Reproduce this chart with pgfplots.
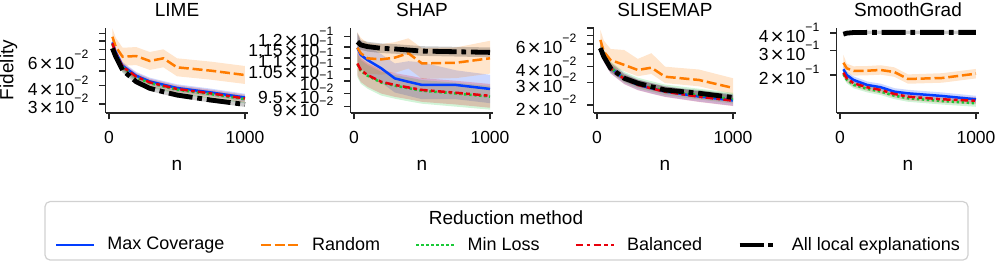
\documentclass[border=0pt]{standalone}
\usepackage{fontspec}
\setmainfont{Liberation Sans}
\newfontfamily\djv{DejaVu Sans}
\usepackage{pgfplots}
\pgfplotsset{compat=1.18}
\usepackage{pgfplotstable}

\definecolor{cMC}{HTML}{023EFF}
\definecolor{cRD}{HTML}{FF7C00}
\definecolor{cML}{HTML}{1AC938}
\definecolor{cBL}{HTML}{E8000B}

\newcommand{\ex}[1]{\raisebox{5.6pt}{\fontsize{6.1}{6}\selectfont −#1}}
\newcommand{\sci}[2]{#1{\djv\hspace{0.08em}×\hspace{0.08em}}10\ex{#2}}

\pgfplotstableread{
n mc rd ml bl al
25 0.0783 0.0855 0.0763 0.0771 0.0714
50 0.0670 0.0730 0.0653 0.0660 0.0626
100 0.0544 0.0626 0.0531 0.0536 0.0509
200 0.0466 0.0633 0.0454 0.0459 0.0424
300 0.0426 0.0586 0.0416 0.0420 0.0383
400 0.0405 0.0611 0.0395 0.0399 0.0363
500 0.0385 0.0531 0.0375 0.0379 0.0345
750 0.0359 0.0504 0.0350 0.0354 0.0319
1000 0.0332 0.0471 0.0324 0.0327 0.0298
}\tLIME

\pgfplotstableread{
n mc rd ml bl al
25 0.1147 0.1147 0.1072 0.1075 0.1175
50 0.1113 0.1121 0.1043 0.1046 0.1160
100 0.1090 0.1098 0.1022 0.1025 0.1152
200 0.1054 0.1093 0.0994 0.0997 0.1144
300 0.1011 0.1101 0.0981 0.0984 0.1141
400 0.0997 0.1121 0.0971 0.0974 0.1136
500 0.0984 0.1075 0.0961 0.0964 0.1131
750 0.0984 0.1078 0.0950 0.0953 0.1128
1000 0.0968 0.1098 0.0938 0.0941 0.1125
}\tSHAP

\pgfplotstableread{
n mc rd ml bl al
25 0.0560 0.0647 0.0560 0.0557 0.0557
50 0.0481 0.0524 0.0482 0.0479 0.0479
100 0.0391 0.0451 0.0392 0.0389 0.0389
200 0.0323 0.0413 0.0325 0.0321 0.0325
300 0.0289 0.0377 0.0293 0.0288 0.0297
400 0.0272 0.0393 0.0275 0.0271 0.0279
500 0.0256 0.0334 0.0259 0.0255 0.0263
750 0.0234 0.0315 0.0240 0.0233 0.0248
1000 0.0218 0.0273 0.0223 0.0217 0.0230
}\tSLISE

\pgfplotstableread{
n mc rd ml bl al
25 0.2198 0.2450 0.2030 0.2077 0.3930
50 0.2000 0.2234 0.1850 0.1893 0.4000
100 0.1842 0.2137 0.1700 0.1744 0.4040
200 0.1695 0.2148 0.1590 0.1632 0.4050
300 0.1632 0.2172 0.1520 0.1560 0.4050
400 0.1517 0.2100 0.1420 0.1460 0.4050
500 0.1476 0.1872 0.1360 0.1396 0.4050
750 0.1413 0.1903 0.1300 0.1337 0.4050
1000 0.1337 0.2044 0.1252 0.1306 0.4050
}\tSMOOTH

\pgfplotsset{
  mypanel/.style={
    scale only axis, width=71.4pt, height=42.5pt,
    xmin=-25, xmax=1025,
    axis x line*=bottom, axis y line*=left,
    axis line style={-, line width=0.8pt, black!85},
    tick style={line width=0.8pt, black!85},
    major tick length=3.2pt, tick align=outside,
    xtick={0,1000}, xticklabels={0,1000},
    xminorticks=false, yminorticks=false,
    ticklabel style={font=\fontsize{8.75}{10}\selectfont},
    xticklabel style={anchor=base, yshift=-12pt},
    yticklabel style={anchor=east, xshift=-1.9pt},
    title style={font=\fontsize{9.5}{11}\selectfont, at={(axis description cs:0.5,1)}, anchor=base},
    xlabel=n,
    xlabel style={font=\fontsize{9.5}{11}\selectfont, at={(axis description cs:0.5,0)}, anchor=base, yshift=-28.5pt},
  },
  sMC/.style={cMC, line width=1.25pt, solid},
  sRD/.style={cRD, line width=1.25pt, dash pattern=on 5pt off 1.9pt},
  sML/.style={cML, line width=1.25pt, dash pattern=on 1.25pt off 1.25pt},
  sBL/.style={cBL, line width=1.25pt, dash pattern=on 3.75pt off 1.6pt on 1.9pt off 1.6pt},
  sAL/.style={black, line width=2.4pt, dash pattern=on 12pt off 2.4pt on 2.4pt off 2.4pt},
  bandMC/.style={draw=none, fill=cMC, fill opacity=0.2, forget plot},
  bandRD/.style={draw=none, fill=cRD, fill opacity=0.2, forget plot},
  bandML/.style={draw=none, fill=cML, fill opacity=0.2, forget plot},
  bandBL/.style={draw=none, fill=cBL, fill opacity=0.2, forget plot},
  bandAL/.style={draw=none, fill=black, fill opacity=0.2, forget plot},
}

\newcommand{\lines}[1]{%
  \addplot[sMC] table[x=n,y=mc]{#1};
  \addplot[sRD] table[x=n,y=rd]{#1};
  \addplot[sML] table[x=n,y=ml]{#1};
  \addplot[sBL] table[x=n,y=bl]{#1};
  \addplot[sAL] table[x=n,y=al]{#1};
}

\begin{document}
\begin{tikzpicture}
\path[use as bounding box] (0pt,0pt) rectangle (498.5pt,-131pt);

\begin{axis}[mypanel, ymode=log, at={(52.8pt,-56.5pt)}, anchor=south west,
  title=LIME, ymin=0.02609, ymax=0.0979,
  ytick={0.03,0.04,0.05,0.06,0.07,0.08,0.09},
  yticklabels={\sci{3}{2},\sci{4}{2},{},\sci{6}{2},{},{},{}},
  ylabel=Fidelity,
  ylabel style={font=\fontsize{9.5}{11}\selectfont, at={(axis description cs:-0.68,0.506)}, anchor=center}]
\addplot[bandMC] coordinates {(25,0.0830)(50,0.0710)(100,0.0577)(200,0.0494)(300,0.0452)(400,0.0429)(500,0.0408)(750,0.0381)(1000,0.0352)(1000,0.0313)(750,0.0339)(500,0.0363)(400,0.0382)(300,0.0402)(200,0.0440)(100,0.0513)(50,0.0632)(25,0.0739)} -- cycle;
\addplot[bandRD] coordinates {(25,0.0975)(50,0.0840)(100,0.0720)(200,0.0728)(300,0.0674)(400,0.0703)(500,0.0611)(750,0.0580)(1000,0.0542)(1000,0.0410)(750,0.0438)(500,0.0462)(400,0.0531)(300,0.0510)(200,0.0550)(100,0.0544)(50,0.0635)(25,0.0743)} -- cycle;
\addplot[bandML] coordinates {(25,0.0801)(50,0.0686)(100,0.0558)(200,0.0477)(300,0.0437)(400,0.0415)(500,0.0394)(750,0.0368)(1000,0.0340)(1000,0.0303)(750,0.0327)(500,0.0350)(400,0.0369)(300,0.0389)(200,0.0424)(100,0.0496)(50,0.0610)(25,0.0713)} -- cycle;
\addplot[bandBL] coordinates {(25,0.0817)(50,0.0700)(100,0.0568)(200,0.0487)(300,0.0445)(400,0.0423)(500,0.0402)(750,0.0375)(1000,0.0347)(1000,0.0308)(750,0.0334)(500,0.0358)(400,0.0376)(300,0.0396)(200,0.0433)(100,0.0506)(50,0.0623)(25,0.0727)} -- cycle;
\addplot[bandAL] coordinates {(25,0.0743)(50,0.0651)(100,0.0529)(200,0.0441)(300,0.0398)(400,0.0378)(500,0.0359)(750,0.0332)(1000,0.0310)(1000,0.0287)(750,0.0307)(500,0.0332)(400,0.0349)(300,0.0368)(200,0.0408)(100,0.0489)(50,0.0602)(25,0.0687)} -- cycle;
\lines{\tLIME}
\end{axis}

\begin{axis}[mypanel, ymode=log, at={(175.3pt,-56.5pt)}, anchor=south west,
  title=SHAP, ymin=0.08768, ymax=0.12436,
  ytick={0.09,0.095,0.1,0.105,0.11,0.115,0.12},
  yticklabels={\sci{9}{2},\sci{9.5}{2},10\ex{1},\sci{1.05}{1},\sci{1.1}{1},\sci{1.15}{1},\sci{1.2}{1}}]
\addplot[bandMC] coordinates {(25,0.1216)(50,0.1180)(100,0.1155)(200,0.1117)(300,0.1075)(400,0.1085)(500,0.1080)(750,0.1045)(1000,0.1026)(1000,0.0913)(750,0.0928)(500,0.0928)(400,0.0941)(300,0.0954)(200,0.0994)(100,0.1028)(50,0.1050)(25,0.1082)} -- cycle;
\addplot[bandRD] coordinates {(25,0.1222)(50,0.1194)(100,0.1169)(200,0.1164)(300,0.1173)(400,0.1192)(500,0.1145)(750,0.1148)(1000,0.1180)(1000,0.1031)(750,0.1012)(500,0.1009)(400,0.1053)(300,0.1034)(200,0.1026)(100,0.1031)(50,0.1053)(25,0.1077)} -- cycle;
\addplot[bandML] coordinates {(25,0.1120)(50,0.1090)(100,0.1068)(200,0.1039)(300,0.1025)(400,0.1015)(500,0.1004)(750,0.0993)(1000,0.0980)(1000,0.0889)(750,0.0900)(500,0.0911)(400,0.0920)(300,0.0930)(200,0.0942)(100,0.0969)(50,0.0989)(25,0.1016)} -- cycle;
\addplot[bandBL] coordinates {(25,0.1129)(50,0.1098)(100,0.1076)(200,0.1047)(300,0.1033)(400,0.1023)(500,0.1012)(750,0.1001)(1000,0.0988)(1000,0.0896)(750,0.0908)(500,0.0918)(400,0.0928)(300,0.0937)(200,0.0950)(100,0.0976)(50,0.0996)(25,0.1024)} -- cycle;
\addplot[bandAL] coordinates {(25,0.1220)(50,0.1183)(100,0.1175)(200,0.1167)(300,0.1164)(400,0.1159)(500,0.1154)(750,0.1151)(1000,0.1148)(1000,0.1103)(750,0.1106)(500,0.1109)(400,0.1114)(300,0.1119)(200,0.1122)(100,0.1129)(50,0.1137)(25,0.1130)} -- cycle;
\lines{\tSHAP}
\end{axis}

\begin{axis}[mypanel, ymode=log, at={(296.8pt,-56.5pt)}, anchor=south west,
  title=SLISEMAP, ymin=0.01739, ymax=0.0802,
  ytick={0.02,0.03,0.04,0.05,0.06,0.07,0.08},
  yticklabels={\sci{2}{2},\sci{3}{2},\sci{4}{2},{},\sci{6}{2},{},{}}]
\addplot[bandMC] coordinates {(25,0.0616)(50,0.0529)(100,0.0430)(200,0.0355)(300,0.0318)(400,0.0299)(500,0.0282)(750,0.0257)(1000,0.0240)(1000,0.0198)(750,0.0213)(500,0.0233)(400,0.0247)(300,0.0263)(200,0.0294)(100,0.0355)(50,0.0437)(25,0.0509)} -- cycle;
\addplot[bandRD] coordinates {(25,0.0775)(50,0.0640)(100,0.0550)(200,0.0540)(300,0.0460)(400,0.0510)(500,0.0400)(750,0.0380)(1000,0.0325)(1000,0.0244)(750,0.0281)(500,0.0298)(400,0.0351)(300,0.0337)(200,0.0369)(100,0.0403)(50,0.0468)(25,0.0578)} -- cycle;
\addplot[bandML] coordinates {(25,0.0627)(50,0.0540)(100,0.0439)(200,0.0364)(300,0.0328)(400,0.0308)(500,0.0290)(750,0.0269)(1000,0.0250)(1000,0.0206)(750,0.0222)(500,0.0240)(400,0.0255)(300,0.0271)(200,0.0301)(100,0.0363)(50,0.0446)(25,0.0519)} -- cycle;
\addplot[bandBL] coordinates {(25,0.0613)(50,0.0527)(100,0.0428)(200,0.0353)(300,0.0317)(400,0.0298)(500,0.0281)(750,0.0256)(1000,0.0239)(1000,0.0197)(750,0.0212)(500,0.0232)(400,0.0246)(300,0.0262)(200,0.0292)(100,0.0354)(50,0.0435)(25,0.0506)} -- cycle;
\addplot[bandAL] coordinates {(25,0.0590)(50,0.0508)(100,0.0412)(200,0.0345)(300,0.0315)(400,0.0296)(500,0.0279)(750,0.0263)(1000,0.0244)(1000,0.0217)(750,0.0234)(500,0.0248)(400,0.0263)(300,0.0280)(200,0.0307)(100,0.0367)(50,0.0452)(25,0.0525)} -- cycle;
\lines{\tSLISE}
\end{axis}

\begin{axis}[mypanel, ymode=log, at={(418.3pt,-56.5pt)}, anchor=south west,
  title=SmoothGrad, ymin=0.10656, ymax=0.4355,
  ytick={0.2,0.3,0.4},
  yticklabels={\sci{2}{1},\sci{3}{1},\sci{4}{1}},
  legend columns=5,
  legend image code/.code={\draw[#1] (0pt,0pt) -- (19pt,0pt);},
  legend style={draw=none, fill=none, at={(axis description cs:-2.2906,-1.553)}, anchor=center,
    font=\fontsize{9}{11}\selectfont,
    /tikz/every odd column/.append style={column sep=4pt},
    /tikz/every even column/.append style={column sep=15.5pt}}]
\addplot[bandMC] coordinates {(25,0.2330)(50,0.2120)(100,0.1953)(200,0.1797)(300,0.1730)(400,0.1608)(500,0.1565)(750,0.1498)(1000,0.1417)(1000,0.1261)(750,0.1333)(500,0.1392)(400,0.1431)(300,0.1540)(200,0.1599)(100,0.1738)(50,0.1887)(25,0.2074)} -- cycle;
\addplot[bandRD] coordinates {(25,0.2790)(50,0.2410)(100,0.2310)(200,0.2320)(300,0.2350)(400,0.2270)(500,0.2020)(750,0.2060)(1000,0.2210)(1000,0.1890)(750,0.1760)(500,0.1730)(400,0.1940)(300,0.2010)(200,0.1990)(100,0.1980)(50,0.2070)(25,0.2270)} -- cycle;
\addplot[bandML] coordinates {(25,0.2132)(50,0.1943)(100,0.1785)(200,0.1670)(300,0.1596)(400,0.1491)(500,0.1428)(750,0.1365)(1000,0.1315)(1000,0.1181)(750,0.1226)(500,0.1283)(400,0.1340)(300,0.1434)(200,0.1500)(100,0.1604)(50,0.1745)(25,0.1915)} -- cycle;
\addplot[bandBL] coordinates {(25,0.2202)(50,0.2007)(100,0.1849)(200,0.1730)(300,0.1654)(400,0.1548)(500,0.1480)(750,0.1417)(1000,0.1384)(1000,0.1232)(750,0.1261)(500,0.1317)(400,0.1377)(300,0.1472)(200,0.1540)(100,0.1645)(50,0.1786)(25,0.1959)} -- cycle;
\addplot[bandAL] coordinates {(25,0.4050)(50,0.4120)(100,0.4160)(200,0.4170)(300,0.4170)(400,0.4170)(500,0.4170)(750,0.4170)(1000,0.4170)(1000,0.3930)(750,0.3930)(500,0.3930)(400,0.3930)(300,0.3930)(200,0.3930)(100,0.3920)(50,0.3880)(25,0.3820)} -- cycle;
\lines{\tSMOOTH}
\legend{Max Coverage, Random, Min Loss, Balanced, All local explanations}
\end{axis}

\draw[black!18, line width=0.6pt, rounded corners=2.5pt] (22.5pt,-100.8pt) rectangle (484pt,-130pt);
\node[font=\fontsize{9.5}{11}\selectfont] at (253pt,-109pt) {Reduction method};
\end{tikzpicture}
\end{document}
